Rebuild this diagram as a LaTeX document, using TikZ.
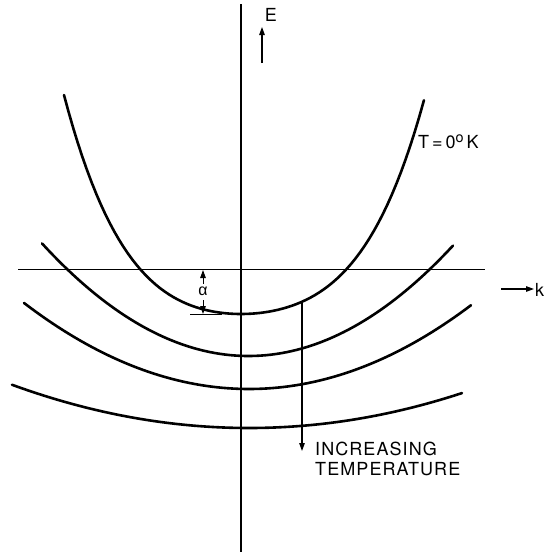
\documentclass[tikz,border=0pt]{standalone}
\usepackage{fontspec}
\setmainfont{TeX Gyre Heros}
\newfontfamily\lettering[LetterSpace=6]{TeX Gyre Heros}
\newfontfamily\greekfont{Liberation Sans}
\usetikzlibrary{positioning, arrows.meta}

\begin{document}
\begin{tikzpicture}[
            x=1pt, y=-1pt,
            axis/.style={line width=1.2pt, black},
            band/.style={line width=2.6pt, black, line cap=round, samples=80},
            pointer/.style={-{Triangle[length=8pt,width=5.5pt]}, line width=1.2pt},
            lbl/.style={font=\lettering\fontsize{18}{20}\selectfont, inner sep=0pt, align=left}
        ]
            \useasboundingbox (0,0) rectangle (545,552);

            % axes
            \coordinate (vtop) at (241,4);
            \coordinate (vbot) at (241,552);
            \coordinate (hleft) at (18,269);
            \coordinate (hright) at (485,269);
            \draw[axis] (vtop) -- (vbot);
            \draw[axis, line width=1pt] (hleft) -- (hright);

            % axis labels
            \coordinate (eS) at (262,63);
            \coordinate (eT) at (262,27);
            \draw[pointer] (eS) -- (eT);
            \node[lbl] (E) at (271,15) {E};
            \coordinate (kS) at (501,289);
            \coordinate (kT) at (534,289);
            \draw[pointer] (kS) -- (kT);
            \node[lbl, anchor=west] (k) at (535,290) {k};

            % bands (u = k/100 about the axis)
            \draw[band, domain=-1.77:1.83] plot ({241+100*\x}, {314-30.15*\x*\x+2.35*\x*\x*\x-11.36*\x*\x*\x*\x});
            \draw[band, domain=-1.99:2.12] plot ({241+100*\x}, {356-26.4*(\x-0.075)^2});
            \draw[band, domain=-2.17:2.30] plot ({241+100*\x}, {389-17*(\x-0.08)^2});
            \draw[band, domain=-2.29:2.21] plot ({241+100*\x}, {428-7.7*(\x-0.08)^2});

            \node[lbl, anchor=base west] (tzero) at (418,148) {T\,=\,0\raisebox{0.55ex}{\scalebox{0.8}{o}}\,K};

            % gap marker
            \coordinate (aS) at (203,284);
            \coordinate (aT) at (203,270);
            \coordinate (bS) at (203,300);
            \coordinate (bT) at (203,314);
            \coordinate (gl) at (190,314);
            \coordinate (gr) at (222,314);
            \draw[pointer, line width=1pt] (aS) -- (aT);
            \draw[pointer, line width=1pt] (bS) -- (bT);
            \draw[line width=1pt] (gl) -- (gr);
            \node[inner sep=0pt, font=\greekfont\fontsize{16}{16}\selectfont] (alpha) at (203,291) {α};

            % temperature arrow
            \coordinate (c1) at (302,302);
            \coordinate (tip) at (302,451);
            \draw[pointer] (c1) -- (tip);
            \node[lbl, anchor=north west] (temp) at (315,442) {INCREASING\\TEMPERATURE};
        \end{tikzpicture}
\end{document}
